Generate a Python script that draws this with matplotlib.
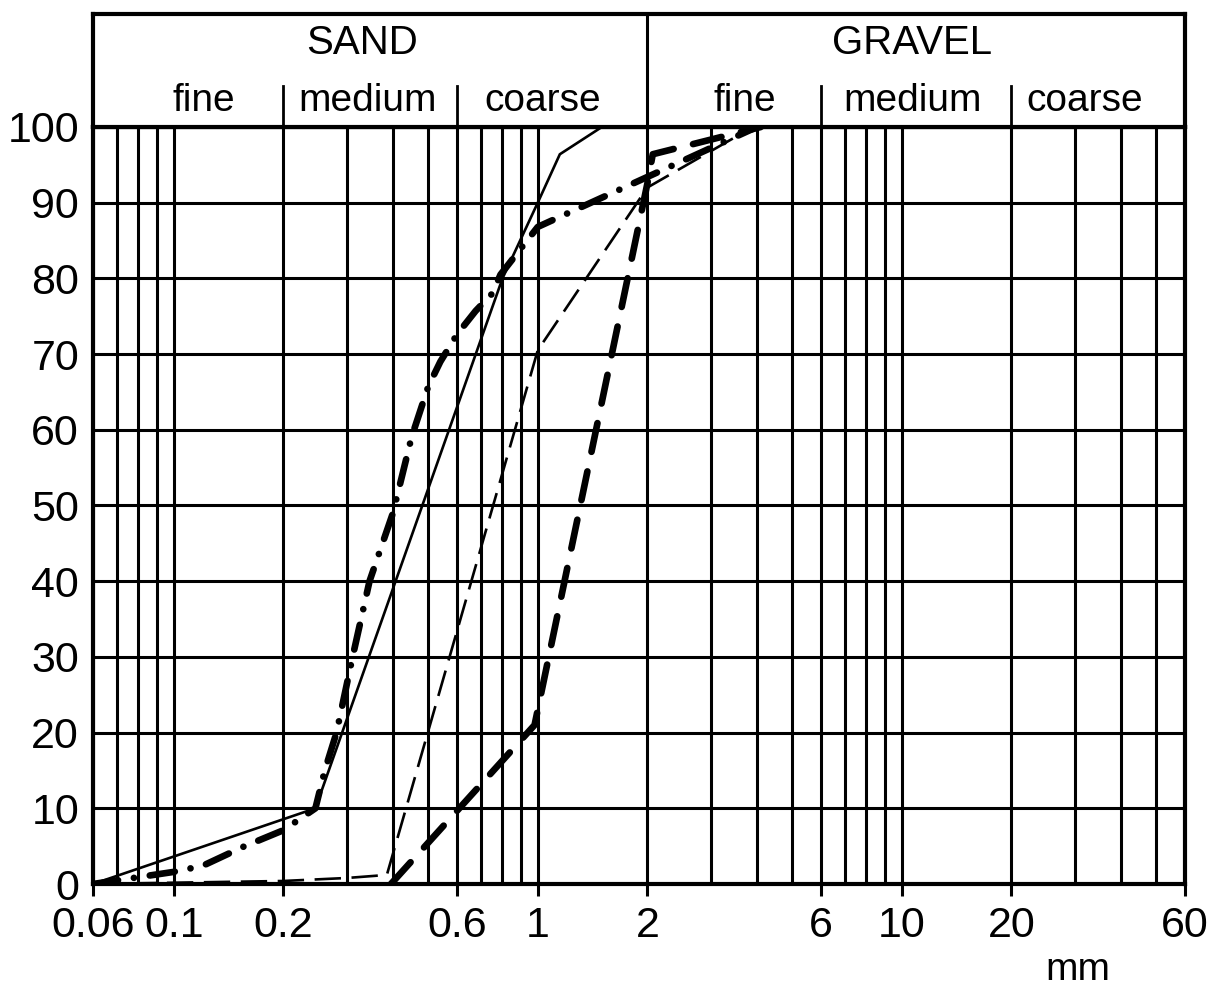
import matplotlib
matplotlib.use("Agg")
import matplotlib.pyplot as plt

plt.rcParams['font.family'] = ['Liberation Sans', 'DejaVu Sans']

# grain size (mm) vs. percent passing, four grading curves
fine_x = [0.06, 0.245, 0.8, 1.0, 1.15, 1.5]
fine_y = [0, 10, 80, 90, 96.4, 100]

mixed_x = [0.06, 0.1, 0.12, 0.155, 0.2, 0.245, 0.26, 0.28, 0.31, 0.345, 0.40,
           0.45, 0.50, 0.54, 0.60, 0.675, 0.75, 0.79, 1.0, 2.0, 4.0]
mixed_y = [0, 1.6, 2.4, 4.9, 7.1, 10, 15, 20, 30, 40, 49,
           59, 65.7, 69, 72.6, 75.7, 78, 80.5, 86.8, 93.4, 100]

medium_x = [0.06, 0.2, 0.3, 0.385, 1.0, 2.0, 3.9]
medium_y = [0, 0.4, 0.8, 1.2, 70.5, 92, 100]

coarse_x = [0.395, 0.98, 2.0, 2.07, 4.1]
coarse_y = [0, 21, 92.5, 96.4, 100]

x_ticks = [0.06, 0.1, 0.2, 0.6, 1, 2, 6, 10, 20, 60]
x_tick_labels = ['0.06', '0.1', '0.2', '0.6', '1', '2', '6', '10', '20', '60']
x_minor = [0.07, 0.08, 0.09, 0.3, 0.4, 0.5, 0.7, 0.8, 0.9,
           3, 4, 5, 7, 8, 9, 30, 40, 50]
y_ticks = list(range(0, 101, 10))

groups = ['SAND', 'GRAVEL']
group_x = [0.329, 10.7]
classes = ['fine', 'medium', 'coarse', 'fine', 'medium', 'coarse']
class_x = [0.121, 0.341, 1.03, 3.71, 10.7, 31.8]
class_bounds = [0.2, 0.6, 6, 20]

fig = plt.figure(figsize=(12.32, 9.9), dpi=100)
ax = fig.add_axes([0.07549, 0.10707, 0.88636, 0.76465])
head = fig.add_axes([0.07549, 0.87172, 0.88636, 0.11414])

ax.set_xscale('log')
ax.set_xlim(0.06, 60)
ax.set_ylim(0, 100)
ax.set_xticks(x_ticks)
ax.set_xticklabels(x_tick_labels)
ax.set_xticks(x_minor, minor=True)
ax.set_xticklabels([], minor=True)
ax.set_yticks(y_ticks)
ax.tick_params(axis='x', which='major', direction='out', length=8.6, width=2.2,
               pad=7, labelsize=31)
ax.tick_params(axis='x', which='minor', length=0)
ax.tick_params(axis='y', length=0, pad=10, labelsize=31)
ax.grid(which='both', axis='x', color='black', lw=2.2)
ax.grid(which='major', axis='y', color='black', lw=2.2)
ax.set_axisbelow('line')
for sp in ax.spines.values():
    sp.set_linewidth(3)

ax.plot(fine_x, fine_y, color='black', lw=1.9, solid_joinstyle='miter')
ax.plot(medium_x, medium_y, color='black', lw=1.9, linestyle=(0, (10, 4)))
ax.plot(mixed_x, mixed_y, color='black', lw=4.8, linestyle=(0, (3.8, 2.4, 0.01, 2.4)),
        dash_capstyle='round')
ax.plot(coarse_x, coarse_y, color='black', lw=4.8, linestyle=(0, (4.4, 3.0)),
        dash_capstyle='round')

ax.text(0.902, -0.113, 'mm', transform=ax.transAxes, ha='center', va='center',
        fontsize=28)

# header with the soil classes
head.set_xscale('log')
head.set_xlim(0.06, 60)
head.set_ylim(0, 1)
head.set_xticks([])
head.set_yticks([])
head.minorticks_off()
for sp in head.spines.values():
    sp.set_linewidth(3)
head.axvline(2, color='black', lw=2.2)
for b in class_bounds:
    head.plot([b, b], [0, 0.36], color='black', lw=2.0)
for name, gx in zip(groups, group_x):
    head.text(gx, 0.74, name, ha='center', va='center', fontsize=29)
for name, cx in zip(classes, class_x):
    head.text(cx, 0.23, name, ha='center', va='center', fontsize=28)

fig.savefig('out.png', dpi=100, facecolor='white')
